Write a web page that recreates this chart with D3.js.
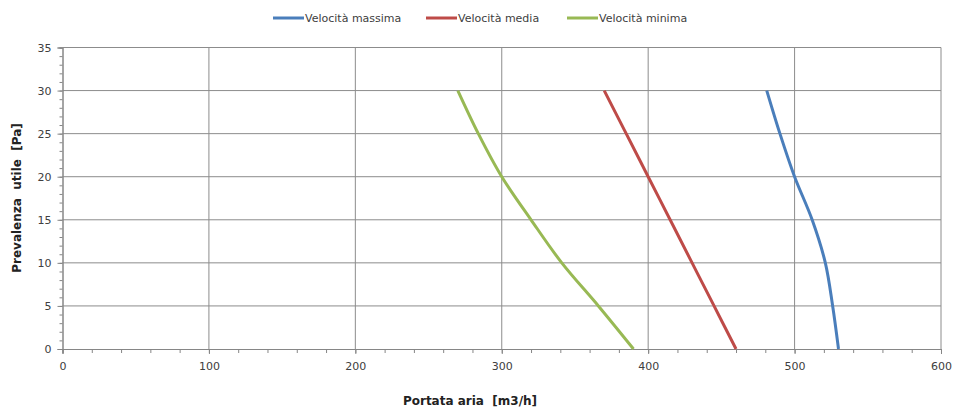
<!DOCTYPE html>
<html>
<head>
<meta charset="utf-8">
<script src="https://cdn.jsdelivr.net/npm/d3@7"></script>
<style>
  body { margin: 0; background: #fff; }
  text { font-family: "DejaVu Sans", Verdana, sans-serif; white-space: pre; }
</style>
</head>
<body>
<div id="chart"></div>
<script>
// pressure levels (Pa) and air flow (m3/h) for each fan speed
var pressure = [0, 5, 10, 15, 20, 25, 30]
var maxSpeed = [530, 526, 521, 512, 500, 490, 481]
var midSpeed = [460, 445, 430, 415, 400, 385, 370]
var minSpeed = [390, 366, 341, 320, 300, 284, 270]

var seriesNames = ["Velocità massima", "Velocità media", "Velocità minima"]
var seriesColors = ["#4a7ebb", "#be4b48", "#98b954"]
var xTicks = [0, 100, 200, 300, 400, 500, 600]
var yTicks = [0, 5, 10, 15, 20, 25, 30, 35]

var width = 955, height = 411
var svg = d3.select("#chart").append("svg")
svg.attr("width", width).attr("height", height)

var x = d3.scaleLinear().domain([0, 600]).range([62.5, 941])
var y = d3.scaleLinear().domain([0, 35]).range([349, 47.5])

// grid
svg.append("g").selectAll("line")
   .data(xTicks.slice(1))
   .enter().append("line")
   .attr("x1", function(d) { return x(d) }).attr("x2", function(d) { return x(d) })
   .attr("y1", y(0)).attr("y2", y(35))
   .attr("stroke", "#8c8c8c").attr("stroke-width", 1)
svg.append("g").selectAll("line")
   .data(yTicks.slice(1))
   .enter().append("line")
   .attr("x1", x(0)).attr("x2", x(600))
   .attr("y1", function(d) { return y(d) }).attr("y2", function(d) { return y(d) })
   .attr("stroke", "#8c8c8c").attr("stroke-width", 1)

// axes
var xAxis = svg.append("g").attr("transform", "translate(0," + y(0) + ")")
xAxis.call(d3.axisBottom(x).tickValues(xTicks).tickSize(5).tickPadding(8))
var xMinor = svg.append("g").attr("transform", "translate(0," + y(0) + ")")
xMinor.call(d3.axisBottom(x).tickValues(d3.range(0, 601, 20)).tickSize(4).tickFormat(""))

var yAxis = svg.append("g").attr("transform", "translate(" + x(0) + ",0)")
yAxis.call(d3.axisLeft(y).tickValues(yTicks).tickSize(5).tickPadding(6))
var yMinor = svg.append("g").attr("transform", "translate(" + x(0) + ",0)")
yMinor.call(d3.axisLeft(y).tickValues(d3.range(0, 36, 1)).tickSize(3).tickFormat(""))

svg.selectAll(".domain").attr("stroke", "#868686")
svg.selectAll(".tick line").attr("stroke", "#868686")
svg.selectAll(".tick text").attr("fill", "#404040").style("font-size", "11px")

// lines
var allSeries = [maxSpeed, midSpeed, minSpeed]
var line = d3.line()
  .x(function(d) { return x(d[0]) })
  .y(function(d) { return y(d[1]) })
  .curve(d3.curveCatmullRom)

svg.append("g").selectAll("path")
   .data(allSeries)
   .enter().append("path")
   .attr("d", function(s) { return line(s.map(function(v, i) { return [v, pressure[i]] })) })
   .attr("fill", "none")
   .attr("stroke", function(s, i) { return seriesColors[i] })
   .attr("stroke-width", 3)

// legend
var legendX = [273, 426, 567]
var legend = svg.append("g").selectAll("g")
   .data(seriesNames)
   .enter().append("g")
   .attr("transform", function(d, i) { return "translate(" + legendX[i] + ",18)" })
legend.append("line")
   .attr("x1", 0).attr("x2", 31).attr("y1", 0).attr("y2", 0)
   .attr("stroke", function(d, i) { return seriesColors[i] })
   .attr("stroke-width", 3)
legend.append("text")
   .attr("x", 32).attr("y", 4)
   .style("font-size", "11px").attr("fill", "#404040")
   .text(function(d) { return d })

// axis titles
svg.append("text")
   .attr("x", 470).attr("y", 405)
   .attr("text-anchor", "middle")
   .style("font-size", "12px").style("font-weight", "bold").attr("fill", "#222")
   .text("Portata aria  [m3/h]")
svg.append("text")
   .attr("transform", "translate(21,198) rotate(-90)")
   .attr("text-anchor", "middle")
   .style("font-size", "12px").style("font-weight", "bold").attr("fill", "#222")
   .text("Prevalenza  utile  [Pa]")
</script>
</body>
</html>
